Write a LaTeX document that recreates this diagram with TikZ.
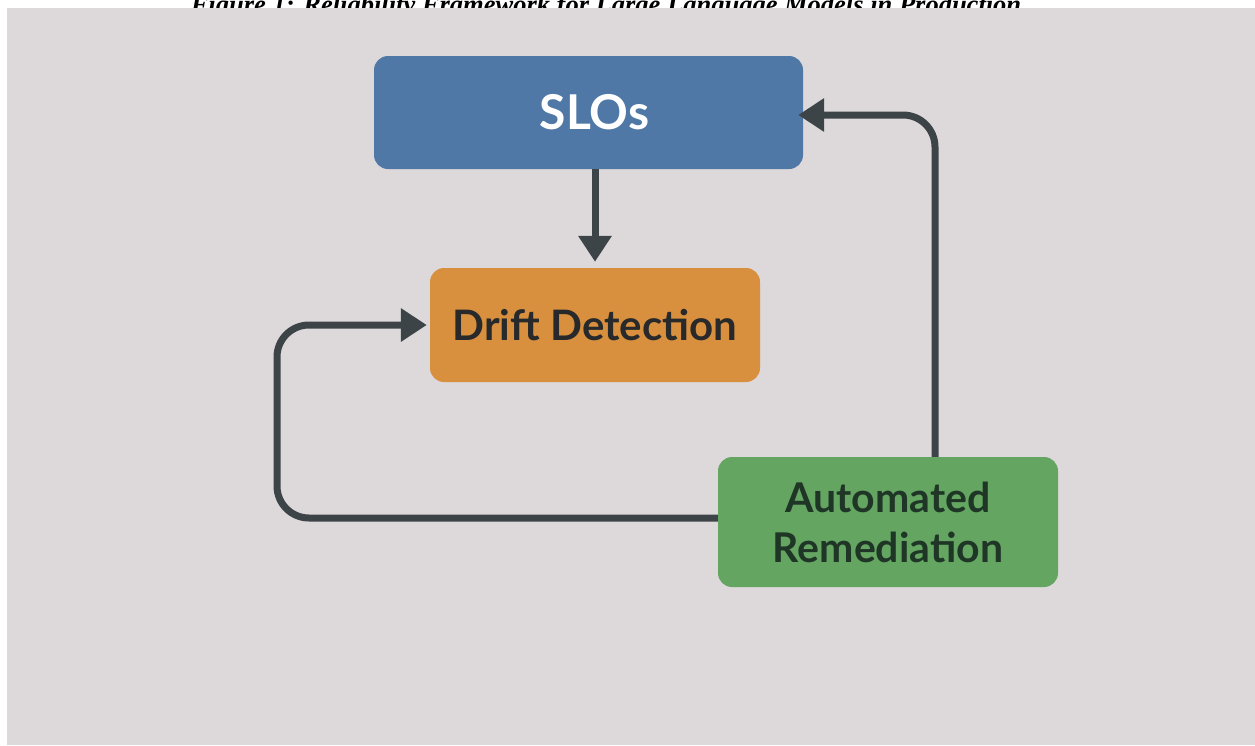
\documentclass[tikz,border=0pt]{standalone}
\usepackage{fontspec}
\setmainfont{Liberation Serif}
\newfontfamily\labelfont{Lato}
\usetikzlibrary{arrows.meta}

\definecolor{canvas}{HTML}{DDD9DA}
\definecolor{sloblue}{HTML}{4F78A6}
\definecolor{driftorange}{HTML}{D88F3E}
\definecolor{remgreen}{HTML}{64A562}
\definecolor{wire}{HTML}{3D4448}
\definecolor{inkdark}{HTML}{28292A}
\definecolor{inkgreen}{HTML}{1F3526}

\tikzset{
  box/.style={rounded corners=14pt, inner sep=0pt, align=center,
    font=\labelfont\bfseries},
  flow/.style={draw=wire, line width=7pt, rounded corners=32pt,
    -{Triangle[length=26pt,width=32pt]}},
}

\begin{document}
\begin{tikzpicture}[x=1pt,y=-1pt]
  \useasboundingbox (0,0) rectangle (1255,745);
  \fill[white] (0,0) rectangle (1255,745);

  % caption, partly hidden under the panel
  \node (caption) [anchor=base, inner sep=0pt,
    font=\fontsize{26.5}{28}\selectfont\bfseries\itshape] at (606,13)
    {Figure 1: Reliability Framework for Large Language Models in Production};

  % panel
  \fill[canvas] (7,8) rectangle (1255,745);

  % stages
  \node (slo) [box, fill=sloblue, text=white, minimum width=429pt,
    minimum height=113pt, font=\labelfont\bfseries\fontsize{48}{50}\selectfont]
    at (588.5,112.5) {\hspace{12pt}SLOs};
  \node (drift) [box, fill=driftorange, text=inkdark, minimum width=330pt,
    minimum height=114pt, font=\labelfont\bfseries\fontsize{42}{48}\selectfont]
    at (595,325) {Drift Detection};
  \node (auto) [box, fill=remgreen, text=inkgreen, minimum width=340pt,
    minimum height=130pt, font=\labelfont\bfseries\fontsize{41}{50}\selectfont]
    at (888,522) {Automated\\Remediation};

  % routing points
  \coordinate (upturn) at (935,115);
  \coordinate (loop) at (277,518);

  % connectors
  \draw[flow, shorten >=6pt] (slo.south -| drift.north) -- (drift.north);
  \draw[flow, shorten >=-5pt] (auto.north -| upturn) -- (upturn) -- (slo.east |- upturn);
  \draw[flow, shorten >=3pt] (auto.west |- loop) -- (loop) |- (drift.west);
\end{tikzpicture}
\end{document}
